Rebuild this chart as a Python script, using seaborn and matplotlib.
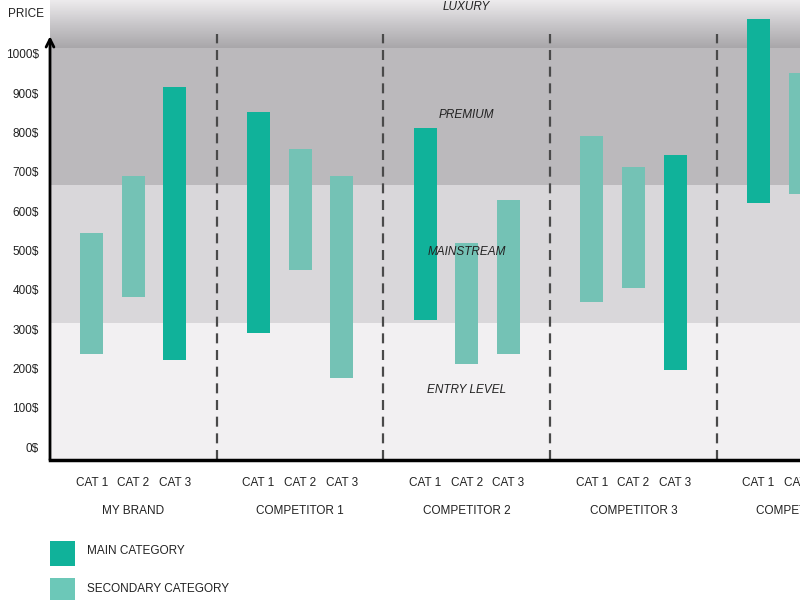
import numpy as np
import seaborn as sns
import matplotlib.pyplot as plt
from matplotlib.patches import Rectangle

sns.set_theme(style="white")
plt.rcParams['font.family'] = ['Liberation Sans', 'DejaVu Sans']

# data (price ranges per brand / category)
brands = ['MY BRAND', 'COMPETITOR 1', 'COMPETITOR 2', 'COMPETITOR 3', 'COMPETITOR 4']
cats = ['CAT 1', 'CAT 2', 'CAT 3']
low = [[237, 382, 221], [290, 450, 176], [323, 211, 237], [369, 405, 196], [621, 644, None]]
high = [[545, 690, 916], [852, 758, 690], [812, 519, 628], [791, 712, 743], [1089, 952, None]]
is_main = [[0, 0, 1], [1, 0, 0], [1, 0, 0], [0, 0, 1], [1, 0, 0]]

segments = ['ENTRY LEVEL', 'MAINSTREAM', 'PREMIUM', 'LUXURY']
seg_edges = [-33, 315, 667, 1015, 1137]
seg_label_y = [145, 496, 845, 1120]
seg_colors = ['#f2f0f2', '#d9d7da', '#bbb9bc']

yticks = list(range(0, 1001, 100))

main_color = '#10b29a'
sec_color = '#74c2b5'

fig = plt.figure(figsize=(8, 6), dpi=100)
ax = fig.add_axes([50 / 800, 1 - 460 / 600, 750 / 800, 460 / 600])

# price segment bands
for i in range(3):
    ax.axhspan(seg_edges[i], seg_edges[i + 1], color=seg_colors[i], lw=0, zorder=0)
grad = np.linspace(0, 1, 100).reshape(-1, 1)
ax.imshow(grad, extent=[-0.5, 4.0, seg_edges[3], seg_edges[4]], origin='lower',
          aspect='auto', cmap=sns.blend_palette(['#a9a7aa', '#c9c7ca', '#edebed'], as_cmap=True),
          zorder=0)
for name, yv in zip(segments, seg_label_y):
    ax.text(2.0, yv, name, ha='center', va='center', fontsize=8.5, style='italic',
            color='#222222', zorder=3)

# floating bars
offsets = [-0.25, 0, 0.25]
for g in range(len(brands)):
    for c in range(3):
        if low[g][c] is None:
            continue
        col = main_color if is_main[g][c] else sec_color
        ax.bar(g + offsets[c], high[g][c] - low[g][c], bottom=low[g][c], width=0.138,
               color=col, lw=0, zorder=2)

# separators
for g in range(4):
    ax.vlines(g + 0.5, seg_edges[0], 1050, colors='#4a4a4a', lw=1.6,
              linestyles=(0, (4.5, 3)), zorder=3)

# axes styling
for s in ['top', 'right', 'left']:
    ax.spines[s].set_visible(False)
ax.spines['bottom'].set_linewidth(2.5)
ax.spines['bottom'].set_color('black')
ax.spines['bottom'].set_zorder(5)
ax.annotate('', xy=(-0.5, 1045), xytext=(-0.5, seg_edges[0]),
            arrowprops=dict(arrowstyle='->', lw=2, color='black', mutation_scale=14,
                            shrinkA=0, shrinkB=0),
            annotation_clip=False, zorder=6)

ax.set_yticks(yticks)
ax.set_yticklabels([f'{v}$' for v in yticks], fontsize=8.5, color='#222222')
ax.tick_params(axis='y', length=0, pad=8)

xt = [g + o for g in range(len(brands)) for o in offsets]
ax.set_xticks(xt)
ax.set_xticklabels(cats * len(brands), fontsize=8.5, color='#222222')
ax.tick_params(axis='x', length=0, pad=12)
for g, b in enumerate(brands):
    ax.text(g, -0.111, b, transform=ax.get_xaxis_transform(), ha='center', va='center',
            fontsize=8.5, color='#222222', clip_on=False)

# limits last, set_xticks would widen them
ax.set_xlim(-0.5, 4.0)
ax.set_ylim(seg_edges[0], seg_edges[-1])

fig.text(8 / 800, 1 - 14 / 600, 'PRICE', ha='left', va='center', fontsize=8.5, color='#222222')

# legend
for i, (lab, col) in enumerate([('MAIN CATEGORY', main_color), ('SECONDARY CATEGORY', '#6cc8b8')]):
    top = 541 + i * 37
    fig.add_artist(Rectangle((50 / 800, 1 - (top + 25) / 600), 25 / 800, 25 / 600,
                             transform=fig.transFigure, color=col, lw=0))
    fig.text(87 / 800, 1 - (top + 10.5) / 600, lab, ha='left', va='center', fontsize=8.5,
             color='#222222')

fig.savefig('out.png', dpi=100)
